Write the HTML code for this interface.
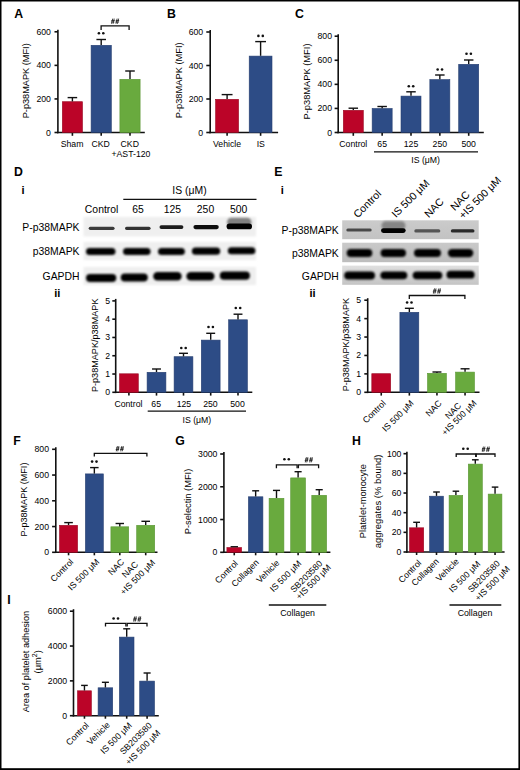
<!DOCTYPE html>
<html><head><meta charset="utf-8"><style>
html,body{margin:0;padding:0;background:#fff;}
body{width:520px;height:770px;overflow:hidden;}
svg{display:block;font-family:"Liberation Sans", sans-serif;}
</style></head><body>
<svg width="520" height="770" viewBox="0 0 520 770">
<rect width="520" height="770" fill="#fff"/>
<defs>
<linearGradient id="gE1" x1="0" y1="0" x2="0" y2="1"><stop offset="0" stop-color="#cbcbcb"/><stop offset="1" stop-color="#c2c2c2"/></linearGradient>
<linearGradient id="gE2" x1="0" y1="0" x2="0" y2="1"><stop offset="0" stop-color="#c9c9c9"/><stop offset="1" stop-color="#bdbdbd"/></linearGradient>
<linearGradient id="gE3" x1="0" y1="0" x2="0" y2="1"><stop offset="0" stop-color="#e0e0e0"/><stop offset="1" stop-color="#c4c4c4"/></linearGradient>
<filter id="b5" x="-20%" y="-50%" width="140%" height="200%"><feGaussianBlur stdDeviation="0.5"/></filter>
<filter id="b7" x="-20%" y="-50%" width="140%" height="200%"><feGaussianBlur stdDeviation="0.7"/></filter>
<filter id="b8" x="-20%" y="-50%" width="140%" height="200%"><feGaussianBlur stdDeviation="0.8"/></filter>
<filter id="b10" x="-20%" y="-50%" width="140%" height="200%"><feGaussianBlur stdDeviation="1.0"/></filter>
<filter id="b12" x="-20%" y="-50%" width="140%" height="200%"><feGaussianBlur stdDeviation="1.2"/></filter>
</defs>
<text x="14.2" y="17.9" font-size="12.3" font-weight="bold" fill="#000" >A</text>
<text x="167" y="18" font-size="12.3" font-weight="bold" fill="#000" >B</text>
<text x="295" y="18" font-size="12.3" font-weight="bold" fill="#000" >C</text>
<text x="14.1" y="176.3" font-size="12.3" font-weight="bold" fill="#000" >D</text>
<text x="274.2" y="176.3" font-size="12.3" font-weight="bold" fill="#000" >E</text>
<text x="13.2" y="445.2" font-size="12.3" font-weight="bold" fill="#000" >F</text>
<text x="175.2" y="444.7" font-size="12.3" font-weight="bold" fill="#000" >G</text>
<text x="351.9" y="444.6" font-size="12.3" font-weight="bold" fill="#000" >H</text>
<text x="7.2" y="603.5" font-size="12.3" font-weight="bold" fill="#000" >I</text>
<line x1="57.9" y1="29.8" x2="57.9" y2="133.3" stroke="#111" stroke-width="1.6"/>
<line x1="54.5" y1="132.5" x2="57.9" y2="132.5" stroke="#111" stroke-width="1.6"/>
<text x="50.9" y="135.5" font-size="8.7" text-anchor="end" >0</text>
<line x1="54.5" y1="98.93" x2="57.9" y2="98.93" stroke="#111" stroke-width="1.6"/>
<text x="50.9" y="101.93" font-size="8.7" text-anchor="end" >200</text>
<line x1="54.5" y1="65.37" x2="57.9" y2="65.37" stroke="#111" stroke-width="1.6"/>
<text x="50.9" y="68.37" font-size="8.7" text-anchor="end" >400</text>
<line x1="54.5" y1="31.8" x2="57.9" y2="31.8" stroke="#111" stroke-width="1.6"/>
<text x="50.9" y="34.8" font-size="8.7" text-anchor="end" >600</text>
<text x="29.3" y="80.8" font-size="9.1" text-anchor="middle" textLength="75" lengthAdjust="spacingAndGlyphs" transform="rotate(-90 29.3 80.8)" >P-p38MAPK (MFI)</text>
<line x1="57.1" y1="132.5" x2="144.8" y2="132.5" stroke="#111" stroke-width="1.6"/>
<line x1="72.4" y1="132.5" x2="72.4" y2="135.8" stroke="#111" stroke-width="1.6"/>
<line x1="101.2" y1="132.5" x2="101.2" y2="135.8" stroke="#111" stroke-width="1.6"/>
<line x1="130" y1="132.5" x2="130" y2="135.8" stroke="#111" stroke-width="1.6"/>
<rect x="62.3" y="101.7" width="20.2" height="30.8" fill="#bb0428" stroke="#9a0a24" stroke-width="0.6"/>
<line x1="72.4" y1="101.4" x2="72.4" y2="97.6" stroke="#111" stroke-width="1.4"/>
<line x1="67.62" y1="97.6" x2="77.18" y2="97.6" stroke="#111" stroke-width="1.4"/>
<rect x="91.1" y="45.3" width="20.2" height="87.2" fill="#2d4c86" stroke="#263f70" stroke-width="0.6"/>
<line x1="101.2" y1="45" x2="101.2" y2="39.5" stroke="#111" stroke-width="1.4"/>
<line x1="96.42" y1="39.5" x2="105.98" y2="39.5" stroke="#111" stroke-width="1.4"/>
<rect x="119.9" y="79.3" width="20.2" height="53.2" fill="#69aa3e" stroke="#5a9634" stroke-width="0.6"/>
<line x1="130" y1="79" x2="130" y2="71" stroke="#111" stroke-width="1.4"/>
<line x1="125.22" y1="71" x2="134.78" y2="71" stroke="#111" stroke-width="1.4"/>
<circle cx="98.9" cy="33.3" r="1.3" fill="#111"/>
<circle cx="103.3" cy="33.3" r="1.3" fill="#111"/>
<polyline points="101.1,29.9 101.1,25.9 129.1,25.9 129.1,29.9" fill="none" stroke="#111" stroke-width="1.3"/>
<path d="M112.72,18.6L111.58,23.8M114.22,18.6L113.08,23.8M111.36,20.47L114.76,20.47M111.02,22.03L114.42,22.03M117.12,18.6L115.98,23.8M118.62,18.6L117.48,23.8M115.76,20.47L119.16,20.47M115.42,22.03L118.82,22.03" stroke="#222" stroke-width="0.85" fill="none"/>
<text x="72.05" y="146.8" font-size="8.7" text-anchor="middle" >Sham</text>
<text x="100.65" y="146.8" font-size="8.7" text-anchor="middle" >CKD</text>
<text x="129.75" y="146.8" font-size="8.7" text-anchor="middle" >CKD</text>
<text x="130.95" y="157.2" font-size="8.7" text-anchor="middle" >+AST-120</text>
<line x1="210.2" y1="30" x2="210.2" y2="133.3" stroke="#111" stroke-width="1.6"/>
<line x1="206.3" y1="132.5" x2="210.2" y2="132.5" stroke="#111" stroke-width="1.6"/>
<text x="203.2" y="135.5" font-size="8.7" text-anchor="end" >0</text>
<line x1="206.3" y1="99" x2="210.2" y2="99" stroke="#111" stroke-width="1.6"/>
<text x="203.2" y="102" font-size="8.7" text-anchor="end" >200</text>
<line x1="206.3" y1="65.5" x2="210.2" y2="65.5" stroke="#111" stroke-width="1.6"/>
<text x="203.2" y="68.5" font-size="8.7" text-anchor="end" >400</text>
<line x1="206.3" y1="32" x2="210.2" y2="32" stroke="#111" stroke-width="1.6"/>
<text x="203.2" y="35" font-size="8.7" text-anchor="end" >600</text>
<text x="181.8" y="80.3" font-size="9.1" text-anchor="middle" textLength="76" lengthAdjust="spacingAndGlyphs" transform="rotate(-90 181.8 80.3)" >P-p38MAPK (MFI)</text>
<line x1="209.4" y1="132.5" x2="278.1" y2="132.5" stroke="#111" stroke-width="1.6"/>
<line x1="227.1" y1="132.5" x2="227.1" y2="135.8" stroke="#111" stroke-width="1.6"/>
<line x1="260.6" y1="132.5" x2="260.6" y2="135.8" stroke="#111" stroke-width="1.6"/>
<rect x="215.6" y="99.3" width="23" height="33.2" fill="#bb0428" stroke="#9a0a24" stroke-width="0.6"/>
<line x1="227.1" y1="99" x2="227.1" y2="94.6" stroke="#111" stroke-width="1.4"/>
<line x1="221.67" y1="94.6" x2="232.53" y2="94.6" stroke="#111" stroke-width="1.4"/>
<rect x="249.2" y="56.1" width="22.8" height="76.4" fill="#2d4c86" stroke="#263f70" stroke-width="0.6"/>
<line x1="260.6" y1="55.8" x2="260.6" y2="41.6" stroke="#111" stroke-width="1.4"/>
<line x1="255.22" y1="41.6" x2="265.98" y2="41.6" stroke="#111" stroke-width="1.4"/>
<circle cx="258.4" cy="35.9" r="1.3" fill="#111"/>
<circle cx="262.8" cy="35.9" r="1.3" fill="#111"/>
<text x="227" y="146.7" font-size="8.7" text-anchor="middle" >Vehicle</text>
<text x="260.8" y="146.7" font-size="8.7" text-anchor="middle" >IS</text>
<line x1="338.2" y1="34.2" x2="338.2" y2="133.3" stroke="#111" stroke-width="1.6"/>
<line x1="334.6" y1="132.5" x2="338.2" y2="132.5" stroke="#111" stroke-width="1.6"/>
<text x="332" y="135.5" font-size="8.7" text-anchor="end" >0</text>
<line x1="334.6" y1="108.42" x2="338.2" y2="108.42" stroke="#111" stroke-width="1.6"/>
<text x="332" y="111.42" font-size="8.7" text-anchor="end" >200</text>
<line x1="334.6" y1="84.35" x2="338.2" y2="84.35" stroke="#111" stroke-width="1.6"/>
<text x="332" y="87.35" font-size="8.7" text-anchor="end" >400</text>
<line x1="334.6" y1="60.28" x2="338.2" y2="60.28" stroke="#111" stroke-width="1.6"/>
<text x="332" y="63.28" font-size="8.7" text-anchor="end" >600</text>
<line x1="334.6" y1="36.2" x2="338.2" y2="36.2" stroke="#111" stroke-width="1.6"/>
<text x="332" y="39.2" font-size="8.7" text-anchor="end" >800</text>
<text x="310.1" y="81.5" font-size="9.1" text-anchor="middle" textLength="76" lengthAdjust="spacingAndGlyphs" transform="rotate(-90 310.1 81.5)" >P-p38MAPK (MFI)</text>
<line x1="337.4" y1="132.5" x2="483.8" y2="132.5" stroke="#111" stroke-width="1.6"/>
<line x1="353.3" y1="132.5" x2="353.3" y2="135.8" stroke="#111" stroke-width="1.6"/>
<line x1="382.15" y1="132.5" x2="382.15" y2="135.8" stroke="#111" stroke-width="1.6"/>
<line x1="411" y1="132.5" x2="411" y2="135.8" stroke="#111" stroke-width="1.6"/>
<line x1="439.85" y1="132.5" x2="439.85" y2="135.8" stroke="#111" stroke-width="1.6"/>
<line x1="468.7" y1="132.5" x2="468.7" y2="135.8" stroke="#111" stroke-width="1.6"/>
<rect x="343.3" y="110.3" width="20" height="22.2" fill="#bb0428" stroke="#9a0a24" stroke-width="0.6"/>
<line x1="353.3" y1="110" x2="353.3" y2="108.2" stroke="#111" stroke-width="1.4"/>
<line x1="348.56" y1="108.2" x2="358.04" y2="108.2" stroke="#111" stroke-width="1.4"/>
<rect x="372.15" y="108.5" width="20" height="24" fill="#2d4c86" stroke="#263f70" stroke-width="0.6"/>
<line x1="382.15" y1="108.2" x2="382.15" y2="106.5" stroke="#111" stroke-width="1.4"/>
<line x1="377.41" y1="106.5" x2="386.89" y2="106.5" stroke="#111" stroke-width="1.4"/>
<rect x="401" y="96.1" width="20" height="36.4" fill="#2d4c86" stroke="#263f70" stroke-width="0.6"/>
<line x1="411" y1="95.8" x2="411" y2="91.8" stroke="#111" stroke-width="1.4"/>
<line x1="406.26" y1="91.8" x2="415.74" y2="91.8" stroke="#111" stroke-width="1.4"/>
<circle cx="408.8" cy="86.3" r="1.3" fill="#111"/>
<circle cx="413.2" cy="86.3" r="1.3" fill="#111"/>
<rect x="429.85" y="79.6" width="20" height="52.9" fill="#2d4c86" stroke="#263f70" stroke-width="0.6"/>
<line x1="439.85" y1="79.3" x2="439.85" y2="75" stroke="#111" stroke-width="1.4"/>
<line x1="435.11" y1="75" x2="444.59" y2="75" stroke="#111" stroke-width="1.4"/>
<circle cx="437.65" cy="69.5" r="1.3" fill="#111"/>
<circle cx="442.05" cy="69.5" r="1.3" fill="#111"/>
<rect x="458.7" y="64.3" width="20" height="68.2" fill="#2d4c86" stroke="#263f70" stroke-width="0.6"/>
<line x1="468.7" y1="64" x2="468.7" y2="60" stroke="#111" stroke-width="1.4"/>
<line x1="463.96" y1="60" x2="473.44" y2="60" stroke="#111" stroke-width="1.4"/>
<circle cx="466.5" cy="53.8" r="1.3" fill="#111"/>
<circle cx="470.9" cy="53.8" r="1.3" fill="#111"/>
<text x="353.3" y="147" font-size="8.7" text-anchor="middle" >Control</text>
<text x="382.15" y="147" font-size="8.7" text-anchor="middle" >65</text>
<text x="411" y="147" font-size="8.7" text-anchor="middle" >125</text>
<text x="439.85" y="147" font-size="8.7" text-anchor="middle" >250</text>
<text x="468.7" y="147" font-size="8.7" text-anchor="middle" >500</text>
<line x1="374" y1="151.8" x2="478" y2="151.8" stroke="#111" stroke-width="1.3"/>
<text x="425.6" y="163.3" font-size="8.7" text-anchor="middle" >IS (μM)</text>
<text x="21.6" y="194" font-size="11" font-weight="bold" fill="#000" >i</text>
<text x="189.5" y="193.8" font-size="10.4" text-anchor="middle" >IS (μM)</text>
<line x1="123.3" y1="199.3" x2="256.5" y2="199.3" stroke="#111" stroke-width="1.3"/>
<text x="101.6" y="212.6" font-size="10.4" text-anchor="middle" >Control</text>
<text x="138" y="212.6" font-size="10.4" text-anchor="middle" >65</text>
<text x="172.4" y="212.6" font-size="10.4" text-anchor="middle" >125</text>
<text x="205.5" y="212.6" font-size="10.4" text-anchor="middle" >250</text>
<text x="238.7" y="212.6" font-size="10.4" text-anchor="middle" >500</text>
<text x="79.5" y="231.4" font-size="10.4" text-anchor="end" >P-p38MAPK</text>
<text x="79.5" y="255.3" font-size="10.4" text-anchor="end" >p38MAPK</text>
<text x="79.5" y="280" font-size="10.4" text-anchor="end" >GAPDH</text>
<rect x="83.5" y="217" width="172.5" height="19.5" fill="#efefef" filter="url(#b10)"/>
<rect x="83.5" y="242" width="172.5" height="18" fill="#efefef" filter="url(#b10)"/>
<rect x="83.5" y="267" width="172.5" height="18" fill="#efefef" filter="url(#b10)"/>
<rect x="227" y="217.8" width="24.5" height="8.7" rx="4.35" fill="#808080" opacity="1" filter="url(#b10)"/>
<rect x="88.7" y="226.7" width="25.9" height="3.2" rx="1.6" fill="#3a3a3a" opacity="1" filter="url(#b7)"/>
<rect x="125" y="226.7" width="25.6" height="3.2" rx="1.6" fill="#333" opacity="1" filter="url(#b7)"/>
<rect x="159.5" y="225.2" width="23.9" height="3.8" rx="1.9" fill="#1a1a1a" opacity="1" filter="url(#b7)"/>
<rect x="193.4" y="225" width="25.4" height="4.2" rx="2.1" fill="#111" opacity="1" filter="url(#b7)"/>
<rect x="226.6" y="223.6" width="25.4" height="5.7" rx="2.85" fill="#000" opacity="1" filter="url(#b7)"/>
<rect x="86" y="247.9" width="29.5" height="7.2" rx="3.6" fill="#000" opacity="1" filter="url(#b8)"/>
<rect x="123" y="247.9" width="27.6" height="7.2" rx="3.6" fill="#000" opacity="1" filter="url(#b8)"/>
<rect x="158" y="248" width="26.9" height="7" rx="3.5" fill="#000" opacity="1" filter="url(#b8)"/>
<rect x="191.9" y="247.6" width="28.3" height="7.2" rx="3.6" fill="#000" opacity="1" filter="url(#b8)"/>
<rect x="227.8" y="247.2" width="27.6" height="7" rx="3.5" fill="#000" opacity="1" filter="url(#b8)"/>
<rect x="86" y="273.9" width="30.3" height="8.1" rx="4.05" fill="#000" opacity="1" filter="url(#b8)"/>
<rect x="120.7" y="273.4" width="27.1" height="8.2" rx="4.1" fill="#000" opacity="1" filter="url(#b8)"/>
<rect x="153.2" y="272" width="28.5" height="8.5" rx="4.25" fill="#000" opacity="1" filter="url(#b8)"/>
<rect x="186.4" y="271.9" width="28.1" height="8.5" rx="4.25" fill="#000" opacity="1" filter="url(#b8)"/>
<rect x="219.8" y="271.6" width="30.1" height="8.2" rx="4.1" fill="#000" opacity="1" filter="url(#b8)"/>
<text x="54.3" y="297" font-size="11" font-weight="bold" fill="#000" >ii</text>
<line x1="115.7" y1="298.9" x2="115.7" y2="393.1" stroke="#111" stroke-width="1.6"/>
<line x1="112.3" y1="392.3" x2="115.7" y2="392.3" stroke="#111" stroke-width="1.6"/>
<text x="110.2" y="395.3" font-size="8.7" text-anchor="end" >0</text>
<line x1="112.3" y1="374.02" x2="115.7" y2="374.02" stroke="#111" stroke-width="1.6"/>
<text x="110.2" y="377.02" font-size="8.7" text-anchor="end" >1</text>
<line x1="112.3" y1="355.74" x2="115.7" y2="355.74" stroke="#111" stroke-width="1.6"/>
<text x="110.2" y="358.74" font-size="8.7" text-anchor="end" >2</text>
<line x1="112.3" y1="337.46" x2="115.7" y2="337.46" stroke="#111" stroke-width="1.6"/>
<text x="110.2" y="340.46" font-size="8.7" text-anchor="end" >3</text>
<line x1="112.3" y1="319.18" x2="115.7" y2="319.18" stroke="#111" stroke-width="1.6"/>
<text x="110.2" y="322.18" font-size="8.7" text-anchor="end" >4</text>
<line x1="112.3" y1="300.9" x2="115.7" y2="300.9" stroke="#111" stroke-width="1.6"/>
<text x="110.2" y="303.9" font-size="8.7" text-anchor="end" >5</text>
<text x="97.8" y="345.3" font-size="9.1" text-anchor="middle" textLength="93.5" lengthAdjust="spacingAndGlyphs" transform="rotate(-90 97.8 345.3)" >P-p38MAPK/p38MAPK</text>
<line x1="114.9" y1="392.3" x2="252.3" y2="392.3" stroke="#111" stroke-width="1.6"/>
<line x1="128.9" y1="392.3" x2="128.9" y2="395.6" stroke="#111" stroke-width="1.6"/>
<line x1="156.5" y1="392.3" x2="156.5" y2="395.6" stroke="#111" stroke-width="1.6"/>
<line x1="183.5" y1="392.3" x2="183.5" y2="395.6" stroke="#111" stroke-width="1.6"/>
<line x1="210.7" y1="392.3" x2="210.7" y2="395.6" stroke="#111" stroke-width="1.6"/>
<line x1="238" y1="392.3" x2="238" y2="395.6" stroke="#111" stroke-width="1.6"/>
<rect x="119.5" y="373.8" width="18.8" height="18.5" fill="#bb0428" stroke="#9a0a24" stroke-width="0.6"/>
<rect x="147.1" y="372.3" width="18.8" height="20" fill="#2d4c86" stroke="#263f70" stroke-width="0.6"/>
<line x1="156.5" y1="372" x2="156.5" y2="369" stroke="#111" stroke-width="1.4"/>
<line x1="152.04" y1="369" x2="160.96" y2="369" stroke="#111" stroke-width="1.4"/>
<rect x="174.1" y="356.7" width="18.8" height="35.6" fill="#2d4c86" stroke="#263f70" stroke-width="0.6"/>
<line x1="183.5" y1="356.4" x2="183.5" y2="353.3" stroke="#111" stroke-width="1.4"/>
<line x1="179.04" y1="353.3" x2="187.96" y2="353.3" stroke="#111" stroke-width="1.4"/>
<circle cx="181.3" cy="348" r="1.3" fill="#111"/>
<circle cx="185.7" cy="348" r="1.3" fill="#111"/>
<rect x="201.3" y="340.1" width="18.8" height="52.2" fill="#2d4c86" stroke="#263f70" stroke-width="0.6"/>
<line x1="210.7" y1="339.8" x2="210.7" y2="333.3" stroke="#111" stroke-width="1.4"/>
<line x1="206.24" y1="333.3" x2="215.16" y2="333.3" stroke="#111" stroke-width="1.4"/>
<circle cx="208.5" cy="327" r="1.3" fill="#111"/>
<circle cx="212.9" cy="327" r="1.3" fill="#111"/>
<rect x="228.6" y="319.8" width="18.8" height="72.5" fill="#2d4c86" stroke="#263f70" stroke-width="0.6"/>
<line x1="238" y1="319.5" x2="238" y2="314.2" stroke="#111" stroke-width="1.4"/>
<line x1="233.54" y1="314.2" x2="242.46" y2="314.2" stroke="#111" stroke-width="1.4"/>
<circle cx="235.8" cy="308" r="1.3" fill="#111"/>
<circle cx="240.2" cy="308" r="1.3" fill="#111"/>
<text x="128.4" y="406.5" font-size="8.7" text-anchor="middle" >Control</text>
<text x="156.2" y="406.5" font-size="8.7" text-anchor="middle" >65</text>
<text x="183.9" y="406.5" font-size="8.7" text-anchor="middle" >125</text>
<text x="210.4" y="406.5" font-size="8.7" text-anchor="middle" >250</text>
<text x="237.5" y="406.5" font-size="8.7" text-anchor="middle" >500</text>
<line x1="147.7" y1="411.2" x2="246" y2="411.2" stroke="#111" stroke-width="1.3"/>
<text x="196.9" y="422.5" font-size="8.7" text-anchor="middle" >IS (μM)</text>
<text x="280.8" y="194" font-size="11" font-weight="bold" fill="#000" >i</text>
<text x="338.8" y="233.6" font-size="10.4" text-anchor="end" >P-p38MAPK</text>
<text x="338.8" y="256.6" font-size="10.4" text-anchor="end" >p38MAPK</text>
<text x="338.8" y="280" font-size="10.4" text-anchor="end" >GAPDH</text>
<rect x="342.2" y="220.3" width="136.5" height="18.9" fill="url(#gE1)" />
<rect x="342.2" y="242.7" width="136.5" height="19.5" fill="url(#gE2)" />
<rect x="342.2" y="265.6" width="136.5" height="19.2" fill="url(#gE3)" />
<rect x="381.5" y="221.2" width="24" height="8.8" rx="4.4" fill="#858585" opacity="1" filter="url(#b10)"/>
<rect x="346.3" y="228.6" width="25.4" height="3" rx="1.5" fill="#4a4a4a" opacity="1" filter="url(#b7)"/>
<rect x="381" y="228.2" width="24.7" height="4.8" rx="2.4" fill="#000" opacity="1" filter="url(#b7)"/>
<rect x="414.3" y="229.3" width="26" height="3.2" rx="1.6" fill="#555" opacity="1" filter="url(#b7)"/>
<rect x="450.8" y="229.2" width="23.7" height="3.4" rx="1.7" fill="#2a2a2a" opacity="1" filter="url(#b7)"/>
<rect x="346.7" y="249" width="25.6" height="7.9" rx="3.95" fill="#000" opacity="1" filter="url(#b8)"/>
<rect x="380.6" y="249" width="25.4" height="7.9" rx="3.95" fill="#000" opacity="1" filter="url(#b8)"/>
<rect x="414" y="248.9" width="27" height="8.1" rx="4.05" fill="#000" opacity="1" filter="url(#b8)"/>
<rect x="447.9" y="248.9" width="25.4" height="8.3" rx="4.15" fill="#000" opacity="1" filter="url(#b8)"/>
<rect x="344.2" y="271.6" width="30.8" height="8" rx="4" fill="#000" opacity="1" filter="url(#b8)"/>
<rect x="380.4" y="271.4" width="26.9" height="7.9" rx="3.95" fill="#000" opacity="1" filter="url(#b8)"/>
<rect x="412.7" y="271.4" width="29.6" height="7.8" rx="3.9" fill="#000" opacity="1" filter="url(#b8)"/>
<rect x="446.5" y="270.8" width="28.1" height="7.8" rx="3.9" fill="#000" opacity="1" filter="url(#b8)"/>
<text x="357.7" y="218.6" font-size="10.6" transform="rotate(-45 357.7 218.6)" >Control</text>
<text x="395.9" y="218.2" font-size="10.6" transform="rotate(-45 395.9 218.2)" >IS 500 μM</text>
<text x="428.7" y="218.2" font-size="10.6" transform="rotate(-45 428.7 218.2)" >NAC</text>
<text x="454.7" y="211.2" font-size="10.6" transform="rotate(-45 454.7 211.2)" >NAC</text>
<text x="463.2" y="219.6" font-size="10.6" transform="rotate(-45 463.2 219.6)" >+IS 500 μM</text>
<text x="309.5" y="297.3" font-size="11" font-weight="bold" fill="#000" >ii</text>
<line x1="367.7" y1="298.2" x2="367.7" y2="393.1" stroke="#111" stroke-width="1.6"/>
<line x1="364.3" y1="392.3" x2="367.7" y2="392.3" stroke="#111" stroke-width="1.6"/>
<text x="361.2" y="395.3" font-size="8.7" text-anchor="end" >0</text>
<line x1="364.3" y1="373.88" x2="367.7" y2="373.88" stroke="#111" stroke-width="1.6"/>
<text x="361.2" y="376.88" font-size="8.7" text-anchor="end" >1</text>
<line x1="364.3" y1="355.46" x2="367.7" y2="355.46" stroke="#111" stroke-width="1.6"/>
<text x="361.2" y="358.46" font-size="8.7" text-anchor="end" >2</text>
<line x1="364.3" y1="337.04" x2="367.7" y2="337.04" stroke="#111" stroke-width="1.6"/>
<text x="361.2" y="340.04" font-size="8.7" text-anchor="end" >3</text>
<line x1="364.3" y1="318.62" x2="367.7" y2="318.62" stroke="#111" stroke-width="1.6"/>
<text x="361.2" y="321.62" font-size="8.7" text-anchor="end" >4</text>
<line x1="364.3" y1="300.2" x2="367.7" y2="300.2" stroke="#111" stroke-width="1.6"/>
<text x="361.2" y="303.2" font-size="8.7" text-anchor="end" >5</text>
<text x="349.4" y="344.6" font-size="9.1" text-anchor="middle" textLength="93.5" lengthAdjust="spacingAndGlyphs" transform="rotate(-90 349.4 344.6)" >P-p38MAPK/p38MAPK</text>
<line x1="366.9" y1="392.3" x2="479.5" y2="392.3" stroke="#111" stroke-width="1.6"/>
<line x1="381.25" y1="392.3" x2="381.25" y2="395.6" stroke="#111" stroke-width="1.6"/>
<line x1="409.35" y1="392.3" x2="409.35" y2="395.6" stroke="#111" stroke-width="1.6"/>
<line x1="436.95" y1="392.3" x2="436.95" y2="395.6" stroke="#111" stroke-width="1.6"/>
<line x1="465.05" y1="392.3" x2="465.05" y2="395.6" stroke="#111" stroke-width="1.6"/>
<rect x="371.8" y="373.7" width="18.9" height="18.6" fill="#bb0428" stroke="#9a0a24" stroke-width="0.6"/>
<rect x="399.9" y="312.3" width="18.9" height="80" fill="#2d4c86" stroke="#263f70" stroke-width="0.6"/>
<line x1="409.35" y1="312" x2="409.35" y2="308.3" stroke="#111" stroke-width="1.4"/>
<line x1="404.87" y1="308.3" x2="413.84" y2="308.3" stroke="#111" stroke-width="1.4"/>
<rect x="427.5" y="373.3" width="18.9" height="19" fill="#69aa3e" stroke="#5a9634" stroke-width="0.6"/>
<line x1="436.95" y1="373" x2="436.95" y2="372" stroke="#111" stroke-width="1.4"/>
<line x1="432.46" y1="372" x2="441.44" y2="372" stroke="#111" stroke-width="1.4"/>
<rect x="455.6" y="372.1" width="18.9" height="20.2" fill="#69aa3e" stroke="#5a9634" stroke-width="0.6"/>
<line x1="465.05" y1="371.8" x2="465.05" y2="368.8" stroke="#111" stroke-width="1.4"/>
<line x1="460.56" y1="368.8" x2="469.54" y2="368.8" stroke="#111" stroke-width="1.4"/>
<circle cx="407.1" cy="302.5" r="1.3" fill="#111"/>
<circle cx="411.5" cy="302.5" r="1.3" fill="#111"/>
<polyline points="409.3,299 409.3,295.5 464.9,295.5 464.9,299" fill="none" stroke="#111" stroke-width="1.3"/>
<path d="M434.52,288.4L433.38,293.6M436.02,288.4L434.88,293.6M433.16,290.27L436.56,290.27M432.82,291.83L436.22,291.83M438.92,288.4L437.78,293.6M440.42,288.4L439.28,293.6M437.56,290.27L440.96,290.27M437.22,291.83L440.62,291.83" stroke="#222" stroke-width="0.85" fill="none"/>
<text x="386.3" y="403.8" font-size="8.8" text-anchor="end" transform="rotate(-45 386.3 403.8)" >Control</text>
<text x="414.3" y="403.8" font-size="8.8" text-anchor="end" transform="rotate(-45 414.3 403.8)" >IS 500 μM</text>
<text x="442.3" y="403.8" font-size="8.8" text-anchor="end" transform="rotate(-45 442.3 403.8)" >NAC</text>
<text x="461.8" y="406.3" font-size="8.8" text-anchor="end" transform="rotate(-45 461.8 406.3)" >NAC</text>
<text x="477.3" y="403.8" font-size="8.8" text-anchor="end" transform="rotate(-45 477.3 403.8)" >+IS 500 μM</text>
<line x1="55.8" y1="447.3" x2="55.8" y2="553.1" stroke="#111" stroke-width="1.6"/>
<line x1="52.1" y1="552.3" x2="55.8" y2="552.3" stroke="#111" stroke-width="1.6"/>
<text x="49" y="555.3" font-size="8.7" text-anchor="end" >0</text>
<line x1="52.1" y1="526.55" x2="55.8" y2="526.55" stroke="#111" stroke-width="1.6"/>
<text x="49" y="529.55" font-size="8.7" text-anchor="end" >200</text>
<line x1="52.1" y1="500.8" x2="55.8" y2="500.8" stroke="#111" stroke-width="1.6"/>
<text x="49" y="503.8" font-size="8.7" text-anchor="end" >400</text>
<line x1="52.1" y1="475.05" x2="55.8" y2="475.05" stroke="#111" stroke-width="1.6"/>
<text x="49" y="478.05" font-size="8.7" text-anchor="end" >600</text>
<line x1="52.1" y1="449.3" x2="55.8" y2="449.3" stroke="#111" stroke-width="1.6"/>
<text x="49" y="452.3" font-size="8.7" text-anchor="end" >800</text>
<text x="27.5" y="499.6" font-size="9.1" text-anchor="middle" textLength="74" lengthAdjust="spacingAndGlyphs" transform="rotate(-90 27.5 499.6)" >P-p38MAPK (MFI)</text>
<line x1="55" y1="552.3" x2="157.5" y2="552.3" stroke="#111" stroke-width="1.6"/>
<line x1="68.55" y1="552.3" x2="68.55" y2="555.3" stroke="#111" stroke-width="1.6"/>
<line x1="94.35" y1="552.3" x2="94.35" y2="555.3" stroke="#111" stroke-width="1.6"/>
<line x1="119.8" y1="552.3" x2="119.8" y2="555.3" stroke="#111" stroke-width="1.6"/>
<line x1="145.7" y1="552.3" x2="145.7" y2="555.3" stroke="#111" stroke-width="1.6"/>
<rect x="59.5" y="525.3" width="18.1" height="27" fill="#bb0428" stroke="#9a0a24" stroke-width="0.6"/>
<line x1="68.55" y1="525" x2="68.55" y2="522.6" stroke="#111" stroke-width="1.4"/>
<line x1="64.25" y1="522.6" x2="72.85" y2="522.6" stroke="#111" stroke-width="1.4"/>
<rect x="85.4" y="473.9" width="17.9" height="78.4" fill="#2d4c86" stroke="#263f70" stroke-width="0.6"/>
<line x1="94.35" y1="473.6" x2="94.35" y2="467.6" stroke="#111" stroke-width="1.4"/>
<line x1="90.09" y1="467.6" x2="98.6" y2="467.6" stroke="#111" stroke-width="1.4"/>
<rect x="110.9" y="526.8" width="17.8" height="25.5" fill="#69aa3e" stroke="#5a9634" stroke-width="0.6"/>
<line x1="119.8" y1="526.5" x2="119.8" y2="523.5" stroke="#111" stroke-width="1.4"/>
<line x1="115.57" y1="523.5" x2="124.03" y2="523.5" stroke="#111" stroke-width="1.4"/>
<rect x="136.7" y="525.3" width="18" height="27" fill="#69aa3e" stroke="#5a9634" stroke-width="0.6"/>
<line x1="145.7" y1="525" x2="145.7" y2="521.3" stroke="#111" stroke-width="1.4"/>
<line x1="141.42" y1="521.3" x2="149.98" y2="521.3" stroke="#111" stroke-width="1.4"/>
<circle cx="92.1" cy="461.6" r="1.3" fill="#111"/>
<circle cx="96.5" cy="461.6" r="1.3" fill="#111"/>
<polyline points="94.3,456.6 94.3,453.3 146.9,453.3 146.9,456.6" fill="none" stroke="#111" stroke-width="1.3"/>
<path d="M117.42,446.1L116.28,451.3M118.92,446.1L117.78,451.3M116.06,447.97L119.46,447.97M115.72,449.53L119.12,449.53M121.82,446.1L120.68,451.3M123.32,446.1L122.18,451.3M120.46,447.97L123.86,447.97M120.12,449.53L123.52,449.53" stroke="#222" stroke-width="0.85" fill="none"/>
<text x="74" y="562.5" font-size="8.8" text-anchor="end" transform="rotate(-45 74 562.5)" >Control</text>
<text x="100" y="562.5" font-size="8.8" text-anchor="end" transform="rotate(-45 100 562.5)" >IS 500 μM</text>
<text x="124.8" y="562.5" font-size="8.8" text-anchor="end" transform="rotate(-45 124.8 562.5)" >NAC</text>
<text x="138.7" y="565" font-size="8.8" text-anchor="end" transform="rotate(-45 138.7 565)" >NAC</text>
<text x="155.8" y="563.3" font-size="8.8" text-anchor="end" transform="rotate(-45 155.8 563.3)" >+IS 500 μM</text>
<line x1="223.9" y1="452" x2="223.9" y2="553.1" stroke="#111" stroke-width="1.6"/>
<line x1="220.2" y1="552.3" x2="223.9" y2="552.3" stroke="#111" stroke-width="1.6"/>
<text x="217.4" y="555.3" font-size="8.7" text-anchor="end" >0</text>
<line x1="220.2" y1="519.53" x2="223.9" y2="519.53" stroke="#111" stroke-width="1.6"/>
<text x="217.4" y="522.53" font-size="8.7" text-anchor="end" >1000</text>
<line x1="220.2" y1="486.77" x2="223.9" y2="486.77" stroke="#111" stroke-width="1.6"/>
<text x="217.4" y="489.77" font-size="8.7" text-anchor="end" >2000</text>
<line x1="220.2" y1="454" x2="223.9" y2="454" stroke="#111" stroke-width="1.6"/>
<text x="217.4" y="457" font-size="8.7" text-anchor="end" >3000</text>
<text x="190.6" y="501.5" font-size="9.1" text-anchor="middle" textLength="65.5" lengthAdjust="spacingAndGlyphs" transform="rotate(-90 190.6 501.5)" >P-selectin (MFI)</text>
<line x1="223.1" y1="552.3" x2="330.4" y2="552.3" stroke="#111" stroke-width="1.6"/>
<line x1="234.25" y1="552.3" x2="234.25" y2="555.3" stroke="#111" stroke-width="1.6"/>
<line x1="255.65" y1="552.3" x2="255.65" y2="555.3" stroke="#111" stroke-width="1.6"/>
<line x1="276.5" y1="552.3" x2="276.5" y2="555.3" stroke="#111" stroke-width="1.6"/>
<line x1="298.1" y1="552.3" x2="298.1" y2="555.3" stroke="#111" stroke-width="1.6"/>
<line x1="319.2" y1="552.3" x2="319.2" y2="555.3" stroke="#111" stroke-width="1.6"/>
<rect x="226.9" y="547.5" width="14.7" height="4.8" fill="#bb0428" stroke="#9a0a24" stroke-width="0.6"/>
<rect x="248.4" y="496.8" width="14.5" height="55.5" fill="#2d4c86" stroke="#263f70" stroke-width="0.6"/>
<line x1="255.65" y1="496.5" x2="255.65" y2="490.8" stroke="#111" stroke-width="1.4"/>
<line x1="252.18" y1="490.8" x2="259.12" y2="490.8" stroke="#111" stroke-width="1.4"/>
<rect x="269.1" y="498.3" width="14.8" height="54" fill="#69aa3e" stroke="#5a9634" stroke-width="0.6"/>
<line x1="276.5" y1="498" x2="276.5" y2="490.4" stroke="#111" stroke-width="1.4"/>
<line x1="272.96" y1="490.4" x2="280.04" y2="490.4" stroke="#111" stroke-width="1.4"/>
<rect x="290.7" y="477.9" width="14.8" height="74.4" fill="#69aa3e" stroke="#5a9634" stroke-width="0.6"/>
<line x1="298.1" y1="477.6" x2="298.1" y2="471.7" stroke="#111" stroke-width="1.4"/>
<line x1="294.56" y1="471.7" x2="301.64" y2="471.7" stroke="#111" stroke-width="1.4"/>
<rect x="311.8" y="495.3" width="14.8" height="57" fill="#69aa3e" stroke="#5a9634" stroke-width="0.6"/>
<line x1="319.2" y1="495" x2="319.2" y2="489.7" stroke="#111" stroke-width="1.4"/>
<line x1="315.66" y1="489.7" x2="322.74" y2="489.7" stroke="#111" stroke-width="1.4"/>
<line x1="230.6" y1="546.7" x2="238" y2="546.7" stroke="#111" stroke-width="1.3"/>
<polyline points="276.4,468.3 276.4,464.9 297.1,464.9 297.1,468.3" fill="none" stroke="#111" stroke-width="1.3"/>
<polyline points="298.4,468.3 298.4,464.9 318.6,464.9 318.6,468.3" fill="none" stroke="#111" stroke-width="1.3"/>
<circle cx="284.4" cy="459.2" r="1.3" fill="#111"/>
<circle cx="288.8" cy="459.2" r="1.3" fill="#111"/>
<path d="M306.42,457.2L305.28,462.4M307.92,457.2L306.78,462.4M305.06,459.07L308.46,459.07M304.72,460.63L308.12,460.63M310.82,457.2L309.68,462.4M312.32,457.2L311.18,462.4M309.46,459.07L312.86,459.07M309.12,460.63L312.52,460.63" stroke="#222" stroke-width="0.85" fill="none"/>
<text x="238.5" y="564" font-size="8.8" text-anchor="end" transform="rotate(-45 238.5 564)" >Control</text>
<text x="259.5" y="563" font-size="8.8" text-anchor="end" transform="rotate(-45 259.5 563)" >Collagen</text>
<text x="280" y="563.5" font-size="8.8" text-anchor="end" transform="rotate(-45 280 563.5)" >Vehicle</text>
<text x="302" y="564" font-size="8.8" text-anchor="end" transform="rotate(-45 302 564)" >IS 500 μM</text>
<text x="323" y="564" font-size="8.8" text-anchor="end" transform="rotate(-45 323 564)" >SB203580</text>
<text x="331.5" y="568" font-size="8.8" text-anchor="end" transform="rotate(-45 331.5 568)" >+IS 500 μM</text>
<line x1="268.8" y1="605" x2="326.3" y2="605" stroke="#111" stroke-width="1.3"/>
<text x="297.6" y="616.3" font-size="8.8" text-anchor="middle" >Collagen</text>
<line x1="406.9" y1="451.7" x2="406.9" y2="552.8" stroke="#111" stroke-width="1.6"/>
<line x1="403.5" y1="552" x2="406.9" y2="552" stroke="#111" stroke-width="1.6"/>
<text x="401.4" y="555" font-size="8.7" text-anchor="end" >0</text>
<line x1="403.5" y1="532.34" x2="406.9" y2="532.34" stroke="#111" stroke-width="1.6"/>
<text x="401.4" y="535.34" font-size="8.7" text-anchor="end" >20</text>
<line x1="403.5" y1="512.68" x2="406.9" y2="512.68" stroke="#111" stroke-width="1.6"/>
<text x="401.4" y="515.68" font-size="8.7" text-anchor="end" >40</text>
<line x1="403.5" y1="493.02" x2="406.9" y2="493.02" stroke="#111" stroke-width="1.6"/>
<text x="401.4" y="496.02" font-size="8.7" text-anchor="end" >60</text>
<line x1="403.5" y1="473.36" x2="406.9" y2="473.36" stroke="#111" stroke-width="1.6"/>
<text x="401.4" y="476.36" font-size="8.7" text-anchor="end" >80</text>
<line x1="403.5" y1="453.7" x2="406.9" y2="453.7" stroke="#111" stroke-width="1.6"/>
<text x="401.4" y="456.7" font-size="8.7" text-anchor="end" >100</text>
<text x="366" y="501.2" font-size="9.1" text-anchor="middle" textLength="74" lengthAdjust="spacingAndGlyphs" transform="rotate(-90 366 501.2)" >Platelet-monocyte</text>
<text x="381.3" y="501.4" font-size="9.5" text-anchor="middle" textLength="93.5" lengthAdjust="spacingAndGlyphs" transform="rotate(-90 381.3 501.4)" >aggregates (% bound)</text>
<line x1="406.1" y1="552" x2="504.6" y2="552" stroke="#111" stroke-width="1.6"/>
<line x1="416.6" y1="552" x2="416.6" y2="555" stroke="#111" stroke-width="1.6"/>
<line x1="436.5" y1="552" x2="436.5" y2="555" stroke="#111" stroke-width="1.6"/>
<line x1="455.9" y1="552" x2="455.9" y2="555" stroke="#111" stroke-width="1.6"/>
<line x1="475.3" y1="552" x2="475.3" y2="555" stroke="#111" stroke-width="1.6"/>
<line x1="495.05" y1="552" x2="495.05" y2="555" stroke="#111" stroke-width="1.6"/>
<rect x="409.5" y="527.8" width="14.2" height="24.2" fill="#bb0428" stroke="#9a0a24" stroke-width="0.6"/>
<line x1="416.6" y1="527.5" x2="416.6" y2="522.3" stroke="#111" stroke-width="1.4"/>
<line x1="413.2" y1="522.3" x2="420" y2="522.3" stroke="#111" stroke-width="1.4"/>
<rect x="429.6" y="496.2" width="13.8" height="55.8" fill="#2d4c86" stroke="#263f70" stroke-width="0.6"/>
<line x1="436.5" y1="495.9" x2="436.5" y2="492" stroke="#111" stroke-width="1.4"/>
<line x1="433.19" y1="492" x2="439.81" y2="492" stroke="#111" stroke-width="1.4"/>
<rect x="449.1" y="495.4" width="13.6" height="56.6" fill="#69aa3e" stroke="#5a9634" stroke-width="0.6"/>
<line x1="455.9" y1="495.1" x2="455.9" y2="491.2" stroke="#111" stroke-width="1.4"/>
<line x1="452.63" y1="491.2" x2="459.17" y2="491.2" stroke="#111" stroke-width="1.4"/>
<rect x="468.3" y="464.1" width="14" height="87.9" fill="#69aa3e" stroke="#5a9634" stroke-width="0.6"/>
<line x1="475.3" y1="463.8" x2="475.3" y2="459.8" stroke="#111" stroke-width="1.4"/>
<line x1="471.94" y1="459.8" x2="478.66" y2="459.8" stroke="#111" stroke-width="1.4"/>
<rect x="488.2" y="494.1" width="13.7" height="57.9" fill="#69aa3e" stroke="#5a9634" stroke-width="0.6"/>
<line x1="495.05" y1="493.8" x2="495.05" y2="487.1" stroke="#111" stroke-width="1.4"/>
<line x1="491.76" y1="487.1" x2="498.34" y2="487.1" stroke="#111" stroke-width="1.4"/>
<polyline points="456.2,457 456.2,454 475.8,454 475.8,457" fill="none" stroke="#111" stroke-width="1.3"/>
<polyline points="476.2,457 476.2,454 495,454 495,457" fill="none" stroke="#111" stroke-width="1.3"/>
<circle cx="463.3" cy="448.7" r="1.3" fill="#111"/>
<circle cx="467.7" cy="448.7" r="1.3" fill="#111"/>
<path d="M483.42,446.6L482.28,451.8M484.92,446.6L483.78,451.8M482.06,448.47L485.46,448.47M481.72,450.03L485.12,450.03M487.82,446.6L486.68,451.8M489.32,446.6L488.18,451.8M486.46,448.47L489.86,448.47M486.12,450.03L489.52,450.03" stroke="#222" stroke-width="0.85" fill="none"/>
<text x="422" y="563.5" font-size="8.8" text-anchor="end" transform="rotate(-45 422 563.5)" >Control</text>
<text x="439.5" y="562" font-size="8.8" text-anchor="end" transform="rotate(-45 439.5 562)" >Collagen</text>
<text x="459.5" y="562" font-size="8.8" text-anchor="end" transform="rotate(-45 459.5 562)" >Vehicle</text>
<text x="481" y="564.5" font-size="8.8" text-anchor="end" transform="rotate(-45 481 564.5)" >IS 500 μM</text>
<text x="500.5" y="564" font-size="8.8" text-anchor="end" transform="rotate(-45 500.5 564)" >SB203580</text>
<text x="510.5" y="569.5" font-size="8.8" text-anchor="end" transform="rotate(-45 510.5 569.5)" >+IS 500 μM</text>
<line x1="449.5" y1="605" x2="501.3" y2="605" stroke="#111" stroke-width="1.3"/>
<text x="475" y="616.3" font-size="8.8" text-anchor="middle" >Collagen</text>
<line x1="73.5" y1="609.2" x2="73.5" y2="716.5" stroke="#111" stroke-width="1.6"/>
<line x1="69.9" y1="715.7" x2="73.5" y2="715.7" stroke="#111" stroke-width="1.6"/>
<text x="67.2" y="718.7" font-size="8.7" text-anchor="end" >0</text>
<line x1="69.9" y1="680.87" x2="73.5" y2="680.87" stroke="#111" stroke-width="1.6"/>
<text x="67.2" y="683.87" font-size="8.7" text-anchor="end" >2000</text>
<line x1="69.9" y1="646.03" x2="73.5" y2="646.03" stroke="#111" stroke-width="1.6"/>
<text x="67.2" y="649.03" font-size="8.7" text-anchor="end" >4000</text>
<line x1="69.9" y1="611.2" x2="73.5" y2="611.2" stroke="#111" stroke-width="1.6"/>
<text x="67.2" y="614.2" font-size="8.7" text-anchor="end" >6000</text>
<text x="28.6" y="661.6" font-size="9.1" text-anchor="middle" textLength="101.4" lengthAdjust="spacingAndGlyphs" transform="rotate(-90 28.6 661.6)" >Area of platelet adhesion</text>
<text x="40.8" y="661.8" font-size="9.4" text-anchor="middle" transform="rotate(-90 40.8 661.8)" >(μm<tspan dy="-3.6" font-size="7">2</tspan><tspan dy="3.6">)</tspan></text>
<line x1="72.7" y1="715.7" x2="158.8" y2="715.7" stroke="#111" stroke-width="1.6"/>
<line x1="84.45" y1="715.7" x2="84.45" y2="718.7" stroke="#111" stroke-width="1.6"/>
<line x1="105.4" y1="715.7" x2="105.4" y2="718.7" stroke="#111" stroke-width="1.6"/>
<line x1="126.7" y1="715.7" x2="126.7" y2="718.7" stroke="#111" stroke-width="1.6"/>
<line x1="147.1" y1="715.7" x2="147.1" y2="718.7" stroke="#111" stroke-width="1.6"/>
<rect x="77.5" y="690.8" width="13.9" height="24.9" fill="#bb0428" stroke="#9a0a24" stroke-width="0.6"/>
<line x1="84.45" y1="690.5" x2="84.45" y2="685.4" stroke="#111" stroke-width="1.4"/>
<line x1="81.12" y1="685.4" x2="87.78" y2="685.4" stroke="#111" stroke-width="1.4"/>
<rect x="98.1" y="687.8" width="14.6" height="27.9" fill="#2d4c86" stroke="#263f70" stroke-width="0.6"/>
<line x1="105.4" y1="687.5" x2="105.4" y2="682.3" stroke="#111" stroke-width="1.4"/>
<line x1="101.9" y1="682.3" x2="108.9" y2="682.3" stroke="#111" stroke-width="1.4"/>
<rect x="119.4" y="637.1" width="14.6" height="78.6" fill="#2d4c86" stroke="#263f70" stroke-width="0.6"/>
<line x1="126.7" y1="636.8" x2="126.7" y2="628.8" stroke="#111" stroke-width="1.4"/>
<line x1="123.2" y1="628.8" x2="130.2" y2="628.8" stroke="#111" stroke-width="1.4"/>
<rect x="139.7" y="681.1" width="14.8" height="34.6" fill="#2d4c86" stroke="#263f70" stroke-width="0.6"/>
<line x1="147.1" y1="680.8" x2="147.1" y2="673" stroke="#111" stroke-width="1.4"/>
<line x1="143.56" y1="673" x2="150.64" y2="673" stroke="#111" stroke-width="1.4"/>
<polyline points="105.5,626.6 105.5,623.4 125.9,623.4 125.9,626.6" fill="none" stroke="#111" stroke-width="1.3"/>
<polyline points="127.2,626.6 127.2,623.4 147,623.4 147,626.6" fill="none" stroke="#111" stroke-width="1.3"/>
<circle cx="113.6" cy="618.5" r="1.3" fill="#111"/>
<circle cx="118" cy="618.5" r="1.3" fill="#111"/>
<path d="M134.82,616.4L133.68,621.6M136.32,616.4L135.18,621.6M133.46,618.27L136.86,618.27M133.12,619.83L136.52,619.83M139.22,616.4L138.08,621.6M140.72,616.4L139.58,621.6M137.86,618.27L141.26,618.27M137.52,619.83L140.92,619.83" stroke="#222" stroke-width="0.85" fill="none"/>
<text x="89.5" y="726" font-size="8.8" text-anchor="end" transform="rotate(-45 89.5 726)" >Control</text>
<text x="110.5" y="725.5" font-size="8.8" text-anchor="end" transform="rotate(-45 110.5 725.5)" >Vehicle</text>
<text x="132.5" y="726" font-size="8.8" text-anchor="end" transform="rotate(-45 132.5 726)" >IS 500 μM</text>
<text x="152.5" y="726" font-size="8.8" text-anchor="end" transform="rotate(-45 152.5 726)" >SB203580</text>
<text x="161" y="733.5" font-size="8.8" text-anchor="end" transform="rotate(-45 161 733.5)" >+IS 500 μM</text>
<rect x="0" y="0" width="520" height="1.5" fill="#000" />
<rect x="0" y="0" width="1.5" height="770" fill="#000" />
<rect x="518.4" y="0" width="1.6" height="770" fill="#000" />
<rect x="0" y="768.2" width="520" height="1.8" fill="#000" />
</svg>
</body></html>
